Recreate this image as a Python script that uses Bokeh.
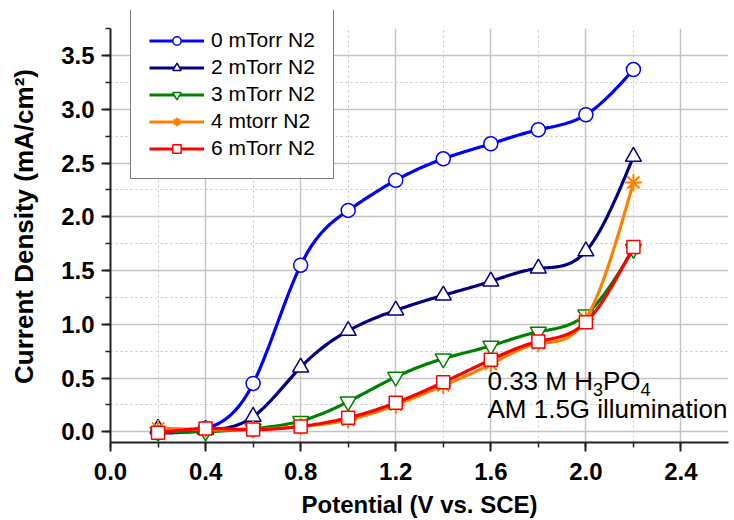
import numpy as np
from bokeh.plotting import figure
from bokeh.models import (Range1d, SingleIntervalTicker, NumeralTickFormatter,
                          Legend, LegendItem, Label, BoxAnnotation)
from bokeh.embed import file_html
from bokeh.resources import INLINE

# Photocurrent vs. applied potential for films grown at different N2 pressures
potential = [0.2, 0.4, 0.6, 0.8, 1.0, 1.2, 1.4, 1.6, 1.8, 2.0, 2.2]
j_0mtorr = [-0.01, 0.03, 0.45, 1.55, 2.06, 2.34, 2.54, 2.68, 2.81, 2.95, 3.37]
j_2mtorr = [0.03, 0.02, 0.14, 0.60, 0.94, 1.13, 1.27, 1.40, 1.52, 1.68, 2.56]
j_3mtorr = [0.00, 0.00, 0.03, 0.10, 0.28, 0.51, 0.68, 0.80, 0.93, 1.09, 1.70]
j_4mtorr = [0.03, 0.02, 0.02, 0.05, 0.11, 0.25, 0.43, 0.63, 0.82, 1.05, 2.32]
j_6mtorr = [-0.01, 0.03, 0.02, 0.05, 0.13, 0.27, 0.46, 0.67, 0.84, 1.02, 1.72]

series_labels = ["0 mTorr N2", "2 mTorr N2", "3 mTorr N2", "4 mtorr N2", "6 mTorr N2"]
series_values = [j_0mtorr, j_2mtorr, j_3mtorr, j_4mtorr, j_6mtorr]
series_colors = ["#0000FF", "#000080", "#008000", "#FF8000", "#FF0000"]
series_markers = ["circle", "triangle", "inverted_triangle", "asterisk", "square"]
marker_sizes = [14, 16, 16, 17, 13]

FONT = "Liberation Sans"
Y_TOP = 3.75   # top of the drawn axis; the frame above it holds the legend


def natural_spline(xs, ys, per_seg=24):
    """Smooth connecting curve through the measured points (natural cubic spline)."""
    x = np.asarray(xs, float)
    y = np.asarray(ys, float)
    n = len(x)
    h = np.diff(x)
    A = np.zeros((n, n))
    b = np.zeros(n)
    A[0, 0] = A[-1, -1] = 1.0
    for i in range(1, n - 1):
        A[i, i - 1] = h[i - 1]
        A[i, i] = 2 * (h[i - 1] + h[i])
        A[i, i + 1] = h[i]
        b[i] = 3 * ((y[i + 1] - y[i]) / h[i] - (y[i] - y[i - 1]) / h[i - 1])
    c = np.linalg.solve(A, b)
    xo, yo = [], []
    for i in range(n - 1):
        bi = (y[i + 1] - y[i]) / h[i] - h[i] * (2 * c[i] + c[i + 1]) / 3
        di = (c[i + 1] - c[i]) / (3 * h[i])
        t = np.linspace(0, h[i], per_seg, endpoint=(i == n - 2))
        xo.extend(x[i] + t)
        yo.extend(y[i] + bi * t + c[i] * t ** 2 + di * t ** 3)
    return xo, yo


p = figure(width=734, height=520, output_backend="svg", toolbar_location=None,
           x_range=Range1d(0, 2.6), y_range=Range1d(-0.1, 3.92),
           min_border_left=110, min_border_right=6, min_border_top=10,
           min_border_bottom=77)
p.outline_line_color = None
p.background_fill_color = "white"

p.xaxis.ticker = SingleIntervalTicker(interval=0.4, num_minor_ticks=2)
p.yaxis.ticker = SingleIntervalTicker(interval=0.5, num_minor_ticks=2)
p.xgrid.ticker = p.xaxis.ticker
p.ygrid.ticker = p.yaxis.ticker
for ax in (p.xaxis, p.yaxis):
    ax.formatter = NumeralTickFormatter(format="0.0")
    ax.axis_line_color = "#222222"
    ax.axis_line_width = 2
    ax.major_tick_line_color = "#222222"
    ax.major_tick_line_width = 2
    ax.minor_tick_line_color = "#222222"
    ax.minor_tick_line_width = 1.5
    ax.major_tick_out = 9
    ax.major_tick_in = 0
    ax.minor_tick_out = 5
    ax.minor_tick_in = 0
    ax.major_label_text_font = FONT
    ax.major_label_text_font_style = "bold"
    ax.major_label_text_font_size = "24px"
    ax.major_label_text_color = "black"
    ax.axis_label_text_font = FONT
    ax.axis_label_text_font_style = "bold"
    ax.axis_label_text_color = "black"
p.yaxis.bounds = (-0.1, Y_TOP)
p.xaxis.major_label_standoff = 11
p.yaxis.major_label_standoff = 7

p.xaxis.axis_label = "Potential (V vs. SCE)"
p.xaxis.axis_label_text_font_size = "24px"
p.xaxis.axis_label_standoff = 8
p.yaxis.axis_label = "Current Density (mA/cm²)"
p.yaxis.axis_label_text_font_size = "26px"
p.yaxis.axis_label_standoff = 19

for g in (p.xgrid, p.ygrid):
    g.grid_line_color = "#c4c4c4"
    g.grid_line_width = 1.5
    g.minor_grid_line_color = "#c4c4c4"
    g.minor_grid_line_width = 1
    g.minor_grid_line_dash = "2 3"
p.ygrid.bounds = (-0.1, 3.6)

# blank band above the axis top, so the grid stops where the axis stops
p.add_layout(BoxAnnotation(bottom=Y_TOP, fill_color="white", fill_alpha=1.0,
                           line_alpha=0, level="glyph"))

items = []
for label, vals, color, marker, msize in zip(series_labels, series_values,
                                             series_colors, series_markers,
                                             marker_sizes):
    sx, sy = natural_spline(potential, vals)
    ln = p.line(sx, sy, line_color=color, line_width=3.2)
    if marker == "asterisk":
        mk = p.scatter(potential, vals, marker=marker, size=msize,
                       line_color=color, line_width=2)
    else:
        mk = p.scatter(potential, vals, marker=marker, size=msize,
                       line_color=color, fill_color="white", line_width=1.5)
    items.append(LegendItem(label=label, renderers=[ln, mk]))

legend = Legend(items=items, location=(20, 263), margin=0, padding=18,
                spacing=3, glyph_width=55, glyph_height=21, label_height=21,
                label_standoff=7, label_text_font=FONT,
                label_text_font_size="21px", label_text_color="black",
                border_line_color="black", border_line_width=1.2,
                background_fill_color="white", background_fill_alpha=1.0)
p.add_layout(legend)

# electrolyte / illumination note
ax0, by1, by2 = 1.586, 0.407, 0.148
lift = 7
big, small = 26, 18
pieces = [("0.33 M H", 0, 0, big), ("3", 105.5, -8, small),
          ("PO", 115.5, 0, big), ("4", 153.0, -8, small)]
for txt, dx, dy, fs in pieces:
    p.add_layout(Label(x=ax0, y=by1, x_offset=dx, y_offset=dy + lift, text=txt,
                       text_font=FONT, text_font_size=f"{fs}px",
                       text_baseline="alphabetic", text_color="black"))
p.add_layout(Label(x=ax0, y=by2, y_offset=lift, text="AM 1.5G illumination",
                   text_font=FONT, text_font_size=f"{big}px",
                   text_baseline="alphabetic", text_color="black"))

open("out.html", "w").write(file_html(p, INLINE))
